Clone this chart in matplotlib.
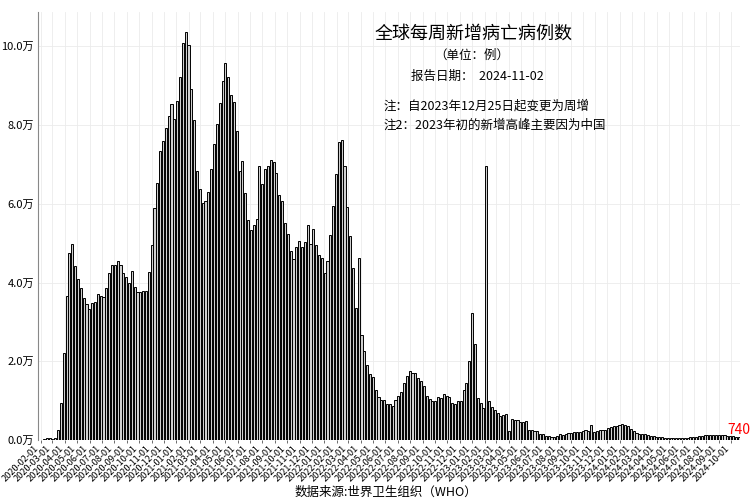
import numpy as np
import pandas as pd
import matplotlib
matplotlib.use("Agg")
import matplotlib.pyplot as plt
import matplotlib.dates as mdates
from matplotlib.ticker import FuncFormatter

plt.rcParams['font.family'] = ['Noto Sans CJK SC', 'DejaVu Sans']

# weekly new deaths, in units of 10k (万)
first_week = "2020-02-02"
deaths_wan = [
    0.01, 0.02, 0.05, 0.04, 0.03, 0.04, 0.25, 0.95, 2.20, 3.66,
    4.75, 4.98, 4.42, 4.09, 3.87, 3.60, 3.46, 3.32, 3.47, 3.50,
    3.72, 3.66, 3.62, 3.86, 4.23, 4.45, 4.45, 4.54, 4.45, 4.25,
    4.13, 3.98, 4.30, 3.88, 3.75, 3.75, 3.78, 3.78, 4.27, 4.94,
    5.89, 6.52, 7.33, 7.60, 7.92, 8.23, 8.54, 8.16, 8.60, 9.21,
    10.07, 10.35, 10.04, 8.91, 8.13, 6.83, 6.38, 6.03, 6.06, 6.29,
    6.89, 7.52, 8.02, 8.57, 9.13, 9.58, 9.21, 8.75, 8.59, 7.84,
    6.83, 7.09, 6.28, 5.59, 5.34, 5.45, 5.62, 6.95, 6.49, 6.87,
    6.96, 7.12, 7.06, 6.77, 6.23, 6.06, 5.51, 5.22, 4.81, 4.59,
    4.91, 5.06, 4.89, 5.03, 5.45, 4.98, 5.36, 4.96, 4.70, 4.63,
    4.24, 4.54, 5.21, 5.95, 6.76, 7.56, 7.63, 6.95, 5.93, 5.17,
    4.36, 3.36, 4.62, 2.67, 2.26, 1.91, 1.67, 1.60, 1.27, 1.10,
    1.02, 1.02, 0.91, 0.91, 0.87, 1.02, 1.12, 1.23, 1.44, 1.63,
    1.75, 1.70, 1.71, 1.58, 1.50, 1.37, 1.12, 1.05, 0.99, 0.99,
    1.10, 1.07, 1.16, 1.13, 1.09, 0.93, 0.91, 1.00, 1.00, 1.26,
    1.45, 2.01, 3.22, 2.43, 1.06, 0.95, 0.82, 6.95, 0.99, 0.84,
    0.76, 0.69, 0.62, 0.64, 0.65, 0.23, 0.54, 0.51, 0.51, 0.46,
    0.46, 0.48, 0.26, 0.26, 0.23, 0.23, 0.16, 0.14, 0.09, 0.09,
    0.07, 0.07, 0.09, 0.14, 0.12, 0.15, 0.17, 0.17, 0.20, 0.20,
    0.20, 0.23, 0.25, 0.23, 0.39, 0.20, 0.23, 0.25, 0.25, 0.25,
    0.31, 0.33, 0.36, 0.36, 0.38, 0.41, 0.39, 0.35, 0.27, 0.23,
    0.19, 0.16, 0.16, 0.14, 0.13, 0.11, 0.10, 0.08, 0.07, 0.07,
    0.06, 0.045, 0.045, 0.045, 0.04, 0.04, 0.045, 0.05, 0.05, 0.065,
    0.07, 0.08, 0.09, 0.10, 0.12, 0.12, 0.125, 0.125, 0.135, 0.135,
    0.125, 0.12, 0.11, 0.10, 0.09, 0.085, 0.074,
]

title = "全球每周新增病亡病例数"
unit_text = "（单位：例）"
report_text = "报告日期：  2024-11-02"
note1 = "注：自2023年12月25日起变更为周增"
note2 = "注2：2023年初的新增高峰主要因为中国"
source_text = "数据来源:世界卫生组织（WHO）"

deaths = np.array(deaths_wan) * 1e4
weeks = pd.date_range(first_week, periods=len(deaths), freq="7D")

fig = plt.figure(figsize=(7.5, 5), dpi=100)
ax = fig.add_axes([0.051, 0.12, 0.936, 0.856])

ax.bar(weeks, deaths, width=5.2, color="#d0d0d0", edgecolor="black", linewidth=0.7, zorder=3)

ax.set_xlim(mdates.date2num(pd.Timestamp("2020-01-26")), mdates.date2num(pd.Timestamp("2024-10-24")))
ax.set_ylim(0, 108700)

ax.xaxis.set_major_locator(mdates.MonthLocator())
ax.xaxis.set_major_formatter(mdates.DateFormatter("%Y-%m-%d"))
ax.yaxis.set_major_locator(plt.MultipleLocator(20000))
ax.yaxis.set_major_formatter(FuncFormatter(lambda v, p: f"{v / 1e4:.1f}万"))

for lbl in ax.get_xticklabels():
    lbl.set_rotation(45)
    lbl.set_ha("right")
    lbl.set_fontsize(6.6)
ax.tick_params(axis="x", length=2, width=0.6, color="#555555", pad=1)
ax.tick_params(axis="y", length=0, labelsize=8, pad=3)

ax.grid(True, color="#ebebeb", linewidth=0.6, zorder=0)
for s in ["top", "right", "bottom"]:
    ax.spines[s].set_visible(False)
ax.spines["left"].set_color("#888888")
ax.spines["left"].set_linewidth(0.8)

ax.text(weeks[-1], deaths[-1], f"{int(round(deaths[-1]))}", color="red",
        fontstyle="italic", fontsize=10, ha="center", va="bottom", zorder=4)

fig.text(0.632, 0.932, title, fontsize=13, ha="center", va="center")
fig.text(0.629, 0.890, unit_text, fontsize=9, ha="center", va="center")
fig.text(0.636, 0.848, report_text, fontsize=9, ha="center", va="center")
fig.text(0.511, 0.788, note1, fontsize=9, ha="left", va="center")
fig.text(0.511, 0.750, note2, fontsize=9, ha="left", va="center")
fig.text(0.515, 0.016, source_text, fontsize=9, ha="center", va="center")

fig.savefig("out.png", dpi=100)
